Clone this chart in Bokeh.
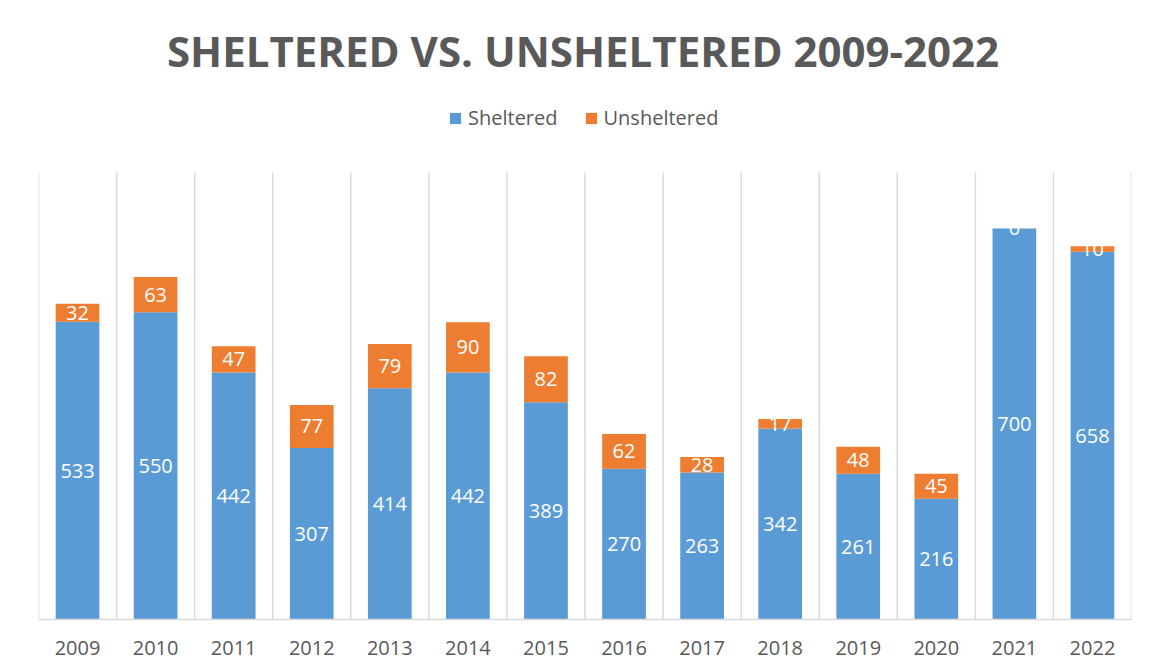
import numpy as np
from bokeh.plotting import figure
from bokeh.models import ColumnDataSource, Range1d, FixedTicker, Legend, LegendItem, Label
from bokeh.core.properties import value
from bokeh.embed import file_html
from bokeh.resources import INLINE

years = ["2009", "2010", "2011", "2012", "2013", "2014", "2015",
         "2016", "2017", "2018", "2019", "2020", "2021", "2022"]
sheltered = [533, 550, 442, 307, 414, 442, 389, 270, 263, 342, 261, 216, 700, 658]
unsheltered = [32, 63, 47, 77, 79, 90, 82, 62, 28, 17, 48, 45, 0, 10]
axis_max = 800

BLUE = "#5B9BD5"
ORANGE = "#ED7D31"
GRAY_TXT = "#595959"
GRID = "#D9D9D9"
FONT = "Open Sans"

FW, FH = 1093, 614
PX_PER_UNIT = 447 / axis_max

n = len(years)
xs = np.arange(n) + 0.5
sh = np.array(sheltered, dtype=float)
un = np.array(unsheltered, dtype=float)

src = ColumnDataSource(dict(
    x=xs, sh=sh, un=un, top=sh + un,
    sh_mid=sh / 2, un_mid=sh + un / 2,
    sh_txt=[str(v) for v in sheltered], un_txt=[str(v) for v in unsheltered],
))
bounds = np.arange(n + 1).astype(float)
grid_src = ColumnDataSource(dict(x=bounds, y0=np.zeros(n + 1), y1=np.full(n + 1, float(axis_max))))

p = figure(frame_width=FW, frame_height=FH, output_backend="svg", toolbar_location=None,
           x_range=Range1d(0, n), y_range=Range1d(0, FH / PX_PER_UNIT),
           min_border_left=38, min_border_right=18, min_border_bottom=50, min_border_top=5)
p.outline_line_color = None
p.background_fill_color = "white"
p.border_fill_color = "white"
p.xgrid.visible = False
p.ygrid.visible = False
p.yaxis.visible = False

p.segment(x0="x", y0="y0", x1="x", y1="y1", source=grid_src, line_color=GRID, line_width=1.5)

b1 = p.vbar(x="x", bottom=0, top="sh", width=0.56, source=src, fill_color=BLUE, line_color=None)
b2 = p.vbar(x="x", bottom="sh", top="top", width=0.56, source=src, fill_color=ORANGE, line_color=None)

p.text(x="x", y="sh_mid", text="sh_txt", source=src, text_color="white",
       text_font=value(FONT), text_font_size="20px", text_align="center", text_baseline="middle")
p.text(x="x", y="un_mid", text="un_txt", source=src, text_color="white",
       text_font=value(FONT), text_font_size="20px", text_align="center", text_baseline="middle")

xa = p.xaxis[0]
xa.ticker = FixedTicker(ticks=list(xs))
xa.major_label_overrides = {float(x): y for x, y in zip(xs, years)}
xa.major_tick_line_color = None
xa.minor_tick_line_color = None
xa.axis_line_color = GRID
xa.axis_line_width = 1.5
xa.major_label_text_font = FONT
xa.major_label_text_font_size = "20px"
xa.major_label_text_color = GRAY_TXT
xa.major_label_standoff = 15

title = Label(text="SHELTERED VS. UNSHELTERED 2009-2022", x=544.5, y=569,
              x_units="screen", y_units="screen", text_align="center", text_baseline="middle",
              text_font=FONT, text_font_size="42px", text_font_style="bold", text_color=GRAY_TXT)
p.add_layout(title)

legend = Legend(items=[LegendItem(label="Sheltered", renderers=[b1]),
                       LegendItem(label="Unsheltered", renderers=[b2])],
                orientation="horizontal", location=(410, 488),
                label_text_font=FONT, label_text_font_size="20px", label_text_color=GRAY_TXT,
                glyph_width=14, glyph_height=14, label_standoff=6, spacing=26,
                border_line_color=None, background_fill_alpha=0, margin=0, padding=0)
p.add_layout(legend)

open("out.html", "w").write(file_html(p, INLINE))
